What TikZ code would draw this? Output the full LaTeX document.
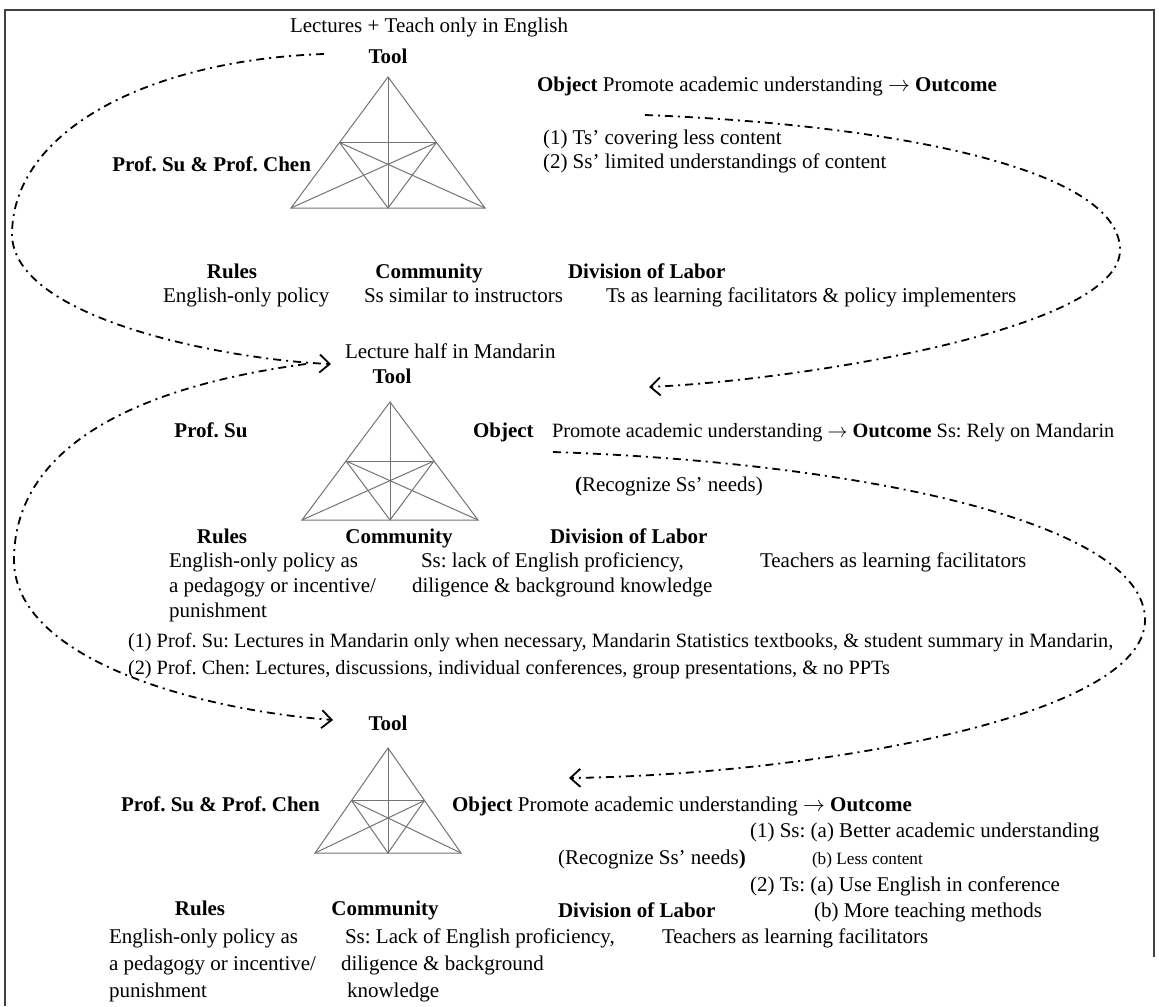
\documentclass[tikz,border=0pt]{standalone}
\usepackage{fontspec}
\setmainfont{Liberation Serif}
\usetikzlibrary{arrows.meta}
\frenchspacing

\newcommand{\toarr}{\ensuremath{\rightarrow}}

\tikzset{
  pics/actri/.style 2 args={code={
    % outer triangle, median and inner cross lines of the activity system
    \draw[tri] (0,0) -- (-#1,#2) -- (#1,#2) -- cycle;
    \draw[tri] (0,0) -- (0,#2);
    \draw[tri] (-#1/2,#2/2) -- (#1/2,#2/2);
    \draw[tri] (-#1/2,#2/2) -- (#1,#2);
    \draw[tri] (#1/2,#2/2) -- (-#1,#2);
    \draw[tri] (-#1/2,#2/2) -- (0,#2) -- (#1/2,#2/2);
  }}
}

\begin{document}
\begin{tikzpicture}[x=0.5pt,y=-0.5pt,
  every node/.style={inner sep=0pt, outer sep=0pt,
    font=\fontsize{10.5}{12}\selectfont, text height=7.2pt, text depth=2.2pt},
  lbl/.style={font=\fontsize{10.5}{12}\selectfont\bfseries},
  txt/.style={anchor=west},
  longtxt/.style={anchor=west, font=\fontsize{10.15}{12}\selectfont},
  smalltxt/.style={anchor=west, font=\fontsize{8.6}{10}\selectfont, text height=6pt, text depth=1.8pt},
  tri/.style={draw=black!55, line width=0.5pt},
  flow/.style={draw=black, line width=0.9pt,
    dash pattern=on 4pt off 2.5pt on 1pt off 2.5pt,
    -{Straight Barb[length=5pt,width=9pt,line width=0.9pt]}},
  outline/.style={draw=black!75, line width=0.7pt}]

\useasboundingbox (0,0) rectangle (1159,1006);

% page frame
\draw[outline] (5,1006) -- (5,10) -- (1154,10) -- (1154,957);

% ---------- first activity system ----------
\node[txt] (lect1) at (290,28) {Lectures + Teach only in English};
\node[lbl] (tool1) at (388,59) {Tool};
\pic at (388,77) {actri={97}{131}};
\node[lbl,anchor=east] (prof1) at (311,166) {Prof. Su \& Prof. Chen};
\node[txt] (obj1) at (537,86) {\textbf{Object} Promote academic understanding \toarr{} \textbf{Outcome}};
\node[txt] (out1a) at (543,139) {(1) Ts’ covering less content};
\node[txt] (out1b) at (543,163) {(2) Ss’ limited understandings of content};
\node[lbl] (rules1) at (232,273) {Rules};
\node[lbl] (comm1) at (429,273) {Community};
\node[lbl,anchor=west] (div1) at (568,273) {Division of Labor};
\node[txt] (rtx1) at (163,297) {English-only policy};
\node[txt] (ctx1) at (364,297) {Ss similar to instructors};
\node[txt] (dtx1) at (606,297) {Ts as learning facilitators \& policy implementers};

% ---------- second activity system ----------
\node[txt] (lect2) at (345,353) {Lecture half in Mandarin};
\node[lbl] (tool2) at (392,378) {Tool};
\pic at (390,402) {actri={88}{118}};
\node[lbl] (prof2) at (211,432) {Prof. Su};
\node[lbl,anchor=west] (obj2) at (473,432) {Object};
\node[longtxt] (prom2) at (552,432) {Promote academic understanding \toarr{} \textbf{Outcome} Ss: Rely on Mandarin};
\node[txt] (rec2) at (575,486) {\textbf{(}Recognize Ss’ needs)};
\node[lbl] (rules2) at (222,538) {Rules};
\node[lbl] (comm2) at (399,538) {Community};
\node[lbl,anchor=west] (div2) at (550,538) {Division of Labor};
\node[txt] (rtx2a) at (169,562) {English-only policy as};
\node[txt] (rtx2b) at (169,587) {a pedagogy or incentive/};
\node[txt] (rtx2c) at (169,612) {punishment};
\node[txt] (ctx2a) at (421,562) {Ss: lack of English proficiency,};
\node[txt] (ctx2b) at (412,587) {diligence \& background knowledge};
\node[txt] (dtx2) at (760,562) {Teachers as learning facilitators};
\node[longtxt] (pr1) at (128,642) {(1) Prof. Su: Lectures in Mandarin only when necessary, Mandarin Statistics textbooks, \& student summary in Mandarin,};
\node[longtxt] (pr2) at (128,669) {(2) Prof. Chen: Lectures, discussions, individual conferences, group presentations, \& no PPTs};

% ---------- third activity system ----------
\node[lbl] (tool3) at (388,725) {Tool};
\pic at (388,748) {actri={73}{105}};
\node[lbl,anchor=west] (prof3) at (121,806) {Prof. Su \& Prof. Chen};
\node[txt] (obj3) at (452,806) {\textbf{Object} Promote academic understanding \toarr{} \textbf{Outcome}};
\node[txt] (out3a) at (750,832) {(1) Ss: (a) Better academic understanding};
\node[txt] (rec3) at (558,859) {(Recognize Ss’ needs\textbf{)}};
\node[smalltxt] (out3b) at (812,860) {(b) Less content};
\node[txt] (out3c) at (750,886) {(2) Ts: (a) Use English in conference};
\node[txt] (out3d) at (814,912) {(b) More teaching methods};
\node[lbl] (rules3) at (200,910) {Rules};
\node[lbl] (comm3) at (385,910) {Community};
\node[lbl,anchor=west] (div3) at (558,912) {Division of Labor};
\node[txt] (rtx3a) at (109,938) {English-only policy as};
\node[txt] (rtx3b) at (109,965) {a pedagogy or incentive/};
\node[txt] (rtx3c) at (109,992) {punishment};
\node[txt] (ctx3a) at (345,938) {Ss: Lack of English proficiency,};
\node[txt] (ctx3b) at (341,965) {diligence \& background};
\node[txt] (ctx3c) at (347,992) {knowledge};
\node[txt] (dtx3) at (662,938) {Teachers as learning facilitators};

% ---------- transitions between the systems ----------
\coordinate (s1) at (324,54);  \coordinate (e1) at (331,364);
\coordinate (s2) at (645,115); \coordinate (e2) at (649,387);
\coordinate (s3) at (306,364); \coordinate (e3) at (333,720);
\coordinate (s4) at (553,452); \coordinate (e4) at (569,778);

\draw[flow] (s1) .. controls (150,60) and (12,130) .. (12,235)
                 .. controls (14,320) and (230,360) .. (e1);
\draw[flow] (s2) .. controls (900,125) and (1120,170) .. (1120,250)
                 .. controls (1120,330) and (800,380) .. (e2);
\draw[flow] (s3) .. controls (150,385) and (14,440) .. (14,560)
                 .. controls (14,660) and (200,710) .. (e3);
\draw[flow] (s4) .. controls (850,462) and (1145,520) .. (1145,620)
                 .. controls (1145,720) and (800,775) .. (e4);
\end{tikzpicture}
\end{document}
